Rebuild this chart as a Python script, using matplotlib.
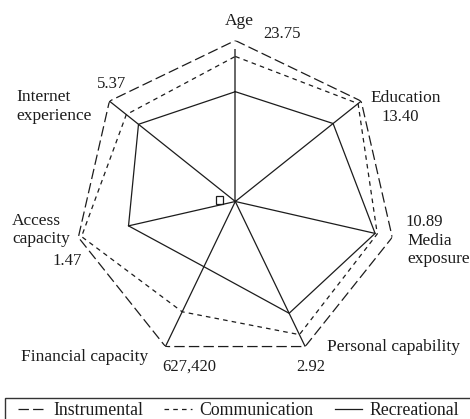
import numpy as np
import matplotlib
matplotlib.use("Agg")
import matplotlib.pyplot as plt
from matplotlib.lines import Line2D
from matplotlib.patches import Rectangle

# ---------------- data ----------------
axis_names = [["Age"], ["Education"], ["Media", "exposure"], ["Personal capability"],
              ["Financial capacity"], ["Access", "capacity"], ["Internet", "experience"]]
axis_max = [23.75, 13.40, 10.89, 2.92, 627420, 1.47, 5.37]
axis_max_text = ["23.75", "13.40", "10.89", "2.92", "627,420", "1.47", "5.37"]
instrumental = [23.75, 13.40, 10.89, 2.92, 627420, 1.47, 5.37]
communication = [21.4, 13.07, 9.85, 2.68, 477000, 1.44, 4.65]
recreational = [16.2, 10.41, 9.70, 2.25, 282000, 1.00, 4.13]
spoke_extent = [22.5, 13.40, 9.70, 2.92, 627420, 1.00, 5.37]
series_names = ["Instrumental", "Communication", "Recreational"]

# ---------------- style ----------------
plt.rcParams["font.family"] = ["Liberation Serif", "DejaVu Serif"]
plt.rcParams["lines.scale_dashes"] = False
W, H = 470, 419
ink = "#1c1c1c"

def px(x, y):
    return x / W, 1 - y / H

fig = plt.figure(figsize=(W / 100, H / 100), dpi=100)
cx, cy, R = 235.3, 201.5, 161
ax = fig.add_axes([(cx - R) / W, (H - cy - R) / H, 2 * R / W, 2 * R / H], projection="polar")
ax.set_theta_zero_location("N")
ax.set_theta_direction(-1)
ax.set_ylim(0, 1)
ax.grid(False)
ax.set_xticks([])
ax.set_yticks([])
ax.spines["polar"].set_visible(False)
ax.patch.set_visible(False)

n = len(axis_max)
theta = np.arange(n) * 2 * np.pi / n
mx = np.array(axis_max, dtype=float)

def closed(vals):
    r = np.array(vals, dtype=float) / mx
    return np.append(theta, theta[0]), np.append(r, r[0])

# spokes
for i, (t, e) in enumerate(zip(theta, spoke_extent)):
    if i == 0:
        ax.plot([t, t], [0, e / mx[i]], color="#5a5a5a", lw=1.3, solid_capstyle="butt")
    else:
        ax.plot([t, t], [0, e / mx[i]], color=ink, lw=0.9)

styles = [dict(dashes=(7.5, 3.0)), dict(dashes=(3.3, 3.0)), dict(linestyle="-")]
handles = []
for vals, st, name in zip([instrumental, communication, recreational], styles, series_names):
    t, r = closed(vals)
    ax.plot(t, r, color=ink, lw=0.9, label=name, **st)
    handles.append(Line2D([], [], color=ink, lw=0.9, **st))

# axis labels
name_pos = [[(239.5, 25, "center")], [(370, 102, "left")], [(407, 245, "left"), (407, 263, "left")],
            [(327, 351, "left")], [(21, 361, "left")], [(12, 225, "left"), (12, 243, "left")],
            [(16, 101, "left"), (16, 120, "left")]]
num_pos = [(263, 38), (381, 121), (405, 226), (296, 371), (162, 371), (52, 265), (97, 88)]
for lines, poss in zip(axis_names, name_pos):
    for txt, (x, y, ha) in zip(lines, poss):
        fig.text(*px(x, y), txt, ha=ha, va="baseline", fontsize=12.5, color=ink)
for txt, (x, y) in zip(axis_max_text, num_pos):
    fig.text(*px(x, y), txt, ha="left", va="baseline", fontsize=12, color=ink)

# small square marker near centre
fig.add_artist(Rectangle(px(216, 204), 7 / W, 8 / H, transform=fig.transFigure,
                         fill=False, edgecolor=ink, lw=0.9))

# legend
fig.add_artist(Rectangle(px(5, 440), 480 / W, 42 / H, transform=fig.transFigure,
                         fill=False, edgecolor="#333333", lw=1.0, clip_on=False))
fig.legend(handles, series_names, ncol=3, loc="upper left", bbox_to_anchor=px(6, 390),
           frameon=False, fontsize=12.8, handlelength=1.55, handletextpad=0.4,
           columnspacing=1.2, borderpad=0.2, labelcolor=ink)

fig.savefig("out.png", dpi=100)
